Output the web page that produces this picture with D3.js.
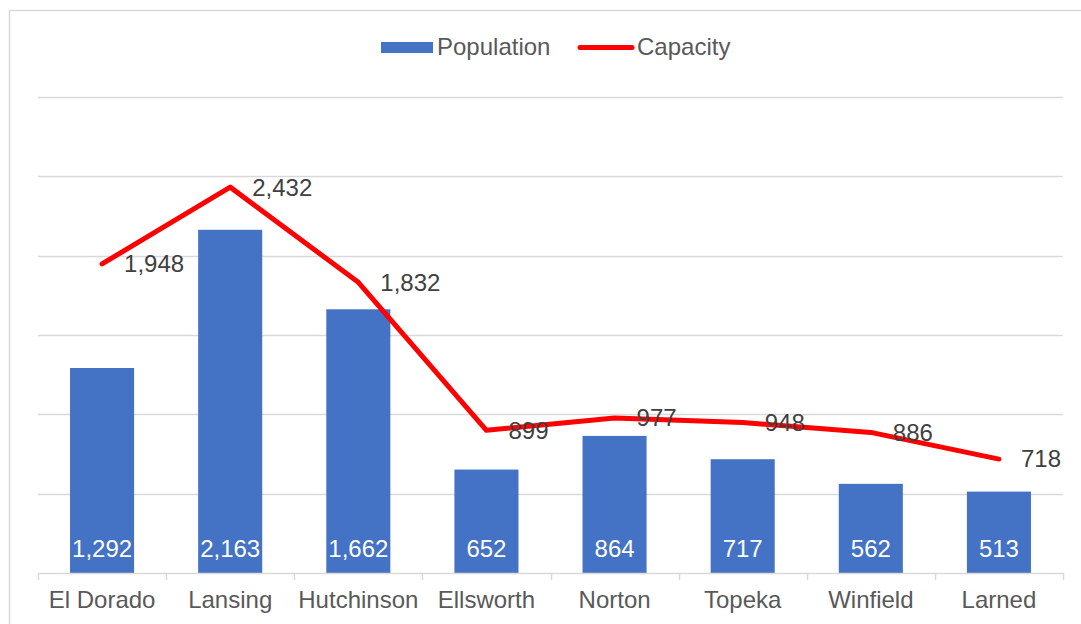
<!DOCTYPE html>
<html>
<head>
<meta charset="utf-8">
<script src="https://cdn.jsdelivr.net/npm/d3@7"></script>
<style>
  body { margin: 0; background: #fff; }
  text { font-family: "Liberation Sans", Arial, sans-serif; }
</style>
</head>
<body>
<svg id="chart"></svg>
<script>
const categories = ["El Dorado", "Lansing", "Hutchinson", "Ellsworth", "Norton", "Topeka", "Winfield", "Larned"]
const population = [1292, 2163, 1662, 652, 864, 717, 562, 513]
const capacity   = [1948, 2432, 1832, 899, 977, 948, 886, 718]
const yTicks     = [0, 500, 1000, 1500, 2000, 2500, 3000]

const width = 1081, height = 624
const plotLeft = 38, plotRight = 1063, plotTop = 97, plotBottom = 573
const fontSize = 24

const svg = d3.select("#chart")
    .attr("width", width)
    .attr("height", height)

// chart border
svg.append("rect")
    .attr("x", 9.5).attr("y", 10.5)
    .attr("width", 1100).attr("height", 700)
    .attr("fill", "#fff")
    .attr("stroke", "#d9d9d9")
    .attr("stroke-width", 1.5)

const x = d3.scaleBand()
    .domain(categories)
    .range([plotLeft, plotRight])
    .paddingInner(0)
    .paddingOuter(0)

const y = d3.scaleLinear()
    .domain([0, 3000])
    .range([plotBottom, plotTop])

// gridlines
svg.append("g")
    .selectAll("line")
    .data(yTicks.slice(1))
    .enter()
    .append("line")
    .attr("x1", plotLeft).attr("x2", plotRight)
    .attr("y1", d => Math.round(y(d)) + 0.5)
    .attr("y2", d => Math.round(y(d)) + 0.5)
    .attr("stroke", "#d9d9d9")
    .attr("stroke-width", 1.5)

// bars
const barW = x.bandwidth() * 0.5
svg.append("g")
    .selectAll("rect")
    .data(population)
    .enter()
    .append("rect")
    .attr("x", (d, i) => x(categories[i]) + (x.bandwidth() - barW) / 2)
    .attr("y", d => y(d))
    .attr("width", barW)
    .attr("height", d => plotBottom - y(d))
    .attr("fill", "#4472c4")

// bar labels (inside base)
svg.append("g")
    .selectAll("text")
    .data(population)
    .enter()
    .append("text")
    .attr("x", (d, i) => x(categories[i]) + x.bandwidth() / 2)
    .attr("y", plotBottom - 16)
    .attr("text-anchor", "middle")
    .attr("font-size", fontSize)
    .attr("fill", "#fff")
    .text(d => d3.format(",")(d))

// x axis
const xAxis = d3.axisBottom(x).tickSize(0).tickPadding(18)
const gx = svg.append("g")
    .attr("transform", `translate(0,${plotBottom})`)
    .call(xAxis)
gx.select(".domain").remove()
gx.selectAll("text")
    .attr("font-size", fontSize)
    .attr("fill", "#595959")
    .attr("font-family", "Liberation Sans, Arial, sans-serif")

svg.append("line")
    .attr("x1", plotLeft).attr("x2", plotRight)
    .attr("y1", plotBottom + 0.5).attr("y2", plotBottom + 0.5)
    .attr("stroke", "#d9d9d9")
    .attr("stroke-width", 1.5)

const bounds = categories.map(c => x(c)).concat([plotRight])
svg.append("g")
    .selectAll("line")
    .data(bounds)
    .enter()
    .append("line")
    .attr("x1", d => Math.round(d) + 0.5).attr("x2", d => Math.round(d) + 0.5)
    .attr("y1", plotBottom).attr("y2", plotBottom + 7)
    .attr("stroke", "#d9d9d9")
    .attr("stroke-width", 1.5)

// capacity line
const line = d3.line()
    .x((d, i) => x(categories[i]) + x.bandwidth() / 2)
    .y(d => y(d))

svg.append("path")
    .datum(capacity)
    .attr("d", line)
    .attr("fill", "none")
    .attr("stroke", "#ff0000")
    .attr("stroke-width", 5)
    .attr("stroke-linejoin", "round")
    .attr("stroke-linecap", "round")

svg.append("g")
    .selectAll("text")
    .data(capacity)
    .enter()
    .append("text")
    .attr("x", (d, i) => x(categories[i]) + x.bandwidth() / 2 + 22)
    .attr("y", d => y(d))
    .attr("dy", "0.35em")
    .attr("font-size", fontSize)
    .attr("fill", "#404040")
    .text(d => d3.format(",")(d))

// legend
const legend = svg.append("g")
legend.append("rect")
    .attr("x", 381).attr("y", 42)
    .attr("width", 52).attr("height", 11)
    .attr("fill", "#4472c4")
legend.append("text")
    .attr("x", 437).attr("y", 47)
    .attr("dy", "0.35em")
    .attr("font-size", fontSize)
    .attr("fill", "#595959")
    .text("Population")
legend.append("line")
    .attr("x1", 580).attr("x2", 632)
    .attr("y1", 47.5).attr("y2", 47.5)
    .attr("stroke", "#ff0000")
    .attr("stroke-width", 5)
    .attr("stroke-linecap", "round")
legend.append("text")
    .attr("x", 637).attr("y", 47)
    .attr("dy", "0.35em")
    .attr("font-size", fontSize)
    .attr("fill", "#595959")
    .text("Capacity")
</script>
</body>
</html>
